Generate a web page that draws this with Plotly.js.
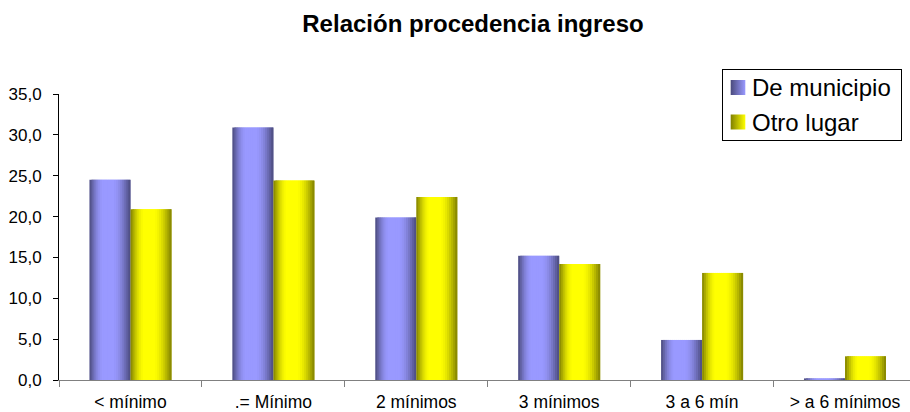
<!DOCTYPE html>
<html>
<head>
<meta charset="utf-8">
<script src="https://cdn.plot.ly/plotly-3.0.1.min.js"></script>
<style>
  html, body { margin: 0; padding: 0; background: #fff; }
  #chart { width: 910px; height: 412px; }
</style>
</head>
<body>
<div id="chart"></div>
<script>
// ---- Data ----
const categories = ["< mínimo", ".= Mínimo", "2 mínimos", "3 mínimos", "3 a 6 mín", "> a 6 mínimos"];
const seriesNames = ["De municipio", "Otro lugar"];
const municipio = [24.5, 30.9, 19.9, 15.2, 4.9, 0.2];
const otroLugar = [20.9, 24.4, 22.4, 14.2, 13.1, 2.9];
const titleText = "Relación procedencia ingreso";

// ---- Style ----
const FONT = "Liberation Sans, Arial, Helvetica, sans-serif";
const lightCols = [[0x99, 0x99, 0xff], [0xff, 0xff, 0x00]];
const darkCols  = [[0x4a, 0x4a, 0x7c], [0x80, 0x80, 0x00]];
const N = 20;            // strips per bar to imitate the shaded fill
const barW = 0.287;      // width of one bar, in category units

function profile(t) {
  if (t < 0.34) return Math.sin((t / 0.34) * Math.PI / 2);
  if (t < 0.55) return 1;
  return Math.cos(((t - 0.55) / 0.45) * Math.PI / 2);
}
function mix(d, l, p) {
  const c = d.map((v, i) => Math.round(v + (l[i] - v) * p));
  return "rgb(" + c.join(",") + ")";
}

const seriesValues = [municipio, otroLugar];
const traces = [];
seriesValues.forEach((vals, s) => {
  const base = s === 0 ? -barW : 0;
  for (let k = 0; k < N; k++) {
    const t = (k + 0.5) / N;
    traces.push({
      type: "bar",
      x: categories,
      y: vals,
      name: seriesNames[s],
      legendgroup: seriesNames[s],
      showlegend: k === Math.floor(N * 0.45),
      offset: base + k * barW / N,
      width: barW / N * (k === N - 1 ? 1 : 2),
      marker: { color: mix(darkCols[s], lightCols[s], profile(t)), line: { width: 0 } },
      hoverinfo: "skip"
    });
  }
});

const layout = {
  width: 910,
  height: 412,
  paper_bgcolor: "#ffffff",
  plot_bgcolor: "#ffffff",
  font: { family: FONT, color: "#000000" },
  separators: ",.",
  barmode: "overlay",
  margin: { l: 59, r: 0, t: 94, b: 32, pad: 0 },
  title: {
    text: "<b>" + titleText + "</b>",
    font: { family: FONT, size: 24, color: "#000000" },
    x: 473 / 910, xref: "container", xanchor: "center",
    y: 1 - 24 / 412, yref: "container", yanchor: "middle"
  },
  xaxis: {
    type: "category",
    range: [-0.5, 5.455],
    showgrid: false,
    zeroline: false,
    showline: true,
    linecolor: "#808080",
    linewidth: 1,
    ticks: "outside",
    tickson: "boundaries",
    ticklen: 6,
    tickcolor: "#808080",
    tickfont: { family: FONT, size: 17.5, color: "#000000" },
    ticklabelstandoff: 6,
    fixedrange: true
  },
  yaxis: {
    range: [0, 35],
    dtick: 5,
    tick0: 0,
    tickformat: ".1f",
    showgrid: false,
    zeroline: false,
    showline: true,
    linecolor: "#000000",
    linewidth: 1,
    ticks: "outside",
    ticklen: 5,
    tickcolor: "#000000",
    tickfont: { family: FONT, size: 17, color: "#000000" },
    ticklabelstandoff: 8,
    fixedrange: true
  },
  legend: {
    x: (901 - 59) / 851, xanchor: "right",
    y: (380 - 69) / 286, yanchor: "top",
    bgcolor: "#ffffff",
    bordercolor: "#000000",
    borderwidth: 1,
    font: { family: FONT, size: 24, color: "#000000" },
    traceorder: "normal",
    itemwidth: 30,
    tracegroupgap: 0
  },
  showlegend: true
};

Plotly.newPlot("chart", traces, layout, { displayModeBar: false, staticPlot: true }).then(gd => {
  try {
    const svg = gd.querySelector("svg.main-svg");
    const NS = "http://www.w3.org/2000/svg";
    let defs = svg.querySelector("defs");
    if (!defs) { defs = document.createElementNS(NS, "defs"); svg.insertBefore(defs, svg.firstChild); }
    [0, 1].forEach(s => {
      const g = document.createElementNS(NS, "linearGradient");
      g.setAttribute("id", "lgGrad" + s);
      g.setAttribute("x1", "0"); g.setAttribute("x2", "1");
      g.setAttribute("y1", "0"); g.setAttribute("y2", "0");
      [[0, mix(darkCols[s], lightCols[s], 0)], [1, mix(darkCols[s], lightCols[s], 1)]].forEach(([o, c]) => {
        const st = document.createElementNS(NS, "stop");
        st.setAttribute("offset", o); st.setAttribute("stop-color", c);
        g.appendChild(st);
      });
      defs.appendChild(g);
    });

    // legend box: tighten to the reference frame
    const legend = gd.querySelector(".legend");
    const bg = legend.querySelector("rect.bg");
    const bb = bg.getBoundingClientRect();
    const bx = parseFloat(bg.getAttribute("x") || 0), by = parseFloat(bg.getAttribute("y") || 0);
    const bw = parseFloat(bg.getAttribute("width")), bh = parseFloat(bg.getAttribute("height"));
    const boxL = 722, boxT = 69, boxR = 901, boxB = 140;
    bg.setAttribute("x", bx + (boxL - bb.left));
    bg.setAttribute("y", by + (boxT - bb.top));
    bg.setAttribute("width", bw + ((boxR - boxL) - bb.width));
    bg.setAttribute("height", bh + ((boxB - boxT) - bb.height));

    const rowCenters = [87.5, 122];
    const items = gd.querySelectorAll(".legend .traces");
    items.forEach((it, i) => {
      const cy = rowCenters[i] !== undefined ? rowCenters[i] : rowCenters[0] + 34.5 * i;
      const txt = it.querySelector(".legendtext");
      if (txt) {
        const tb = txt.getBoundingClientRect();
        const dx = 752 - tb.left, dy = cy - (tb.top + tb.bottom) / 2;
        const prev = txt.getAttribute("transform") || "";
        txt.setAttribute("transform", "translate(" + dx + "," + dy + ") " + prev);
      }
      it.querySelectorAll(".legendpoints path").forEach(p => {
        const pc = p.parentNode.getScreenCTM();
        const lb = p.getBBox();
        const lcx = lb.x + lb.width / 2, lcy = lb.y + lb.height / 2;
        const tx = 738 - pc.e, ty = cy - pc.f;
        p.setAttribute("transform", "translate(" + tx + "," + ty + ") scale(1.22,1.25) translate(" + (-lcx) + "," + (-lcy) + ")");
        p.style.fill = "url(#lgGrad" + i + ")";
        p.style.stroke = "none";
      });
    });
  } catch (e) { console.log(e); }
});
</script>
</body>
</html>
